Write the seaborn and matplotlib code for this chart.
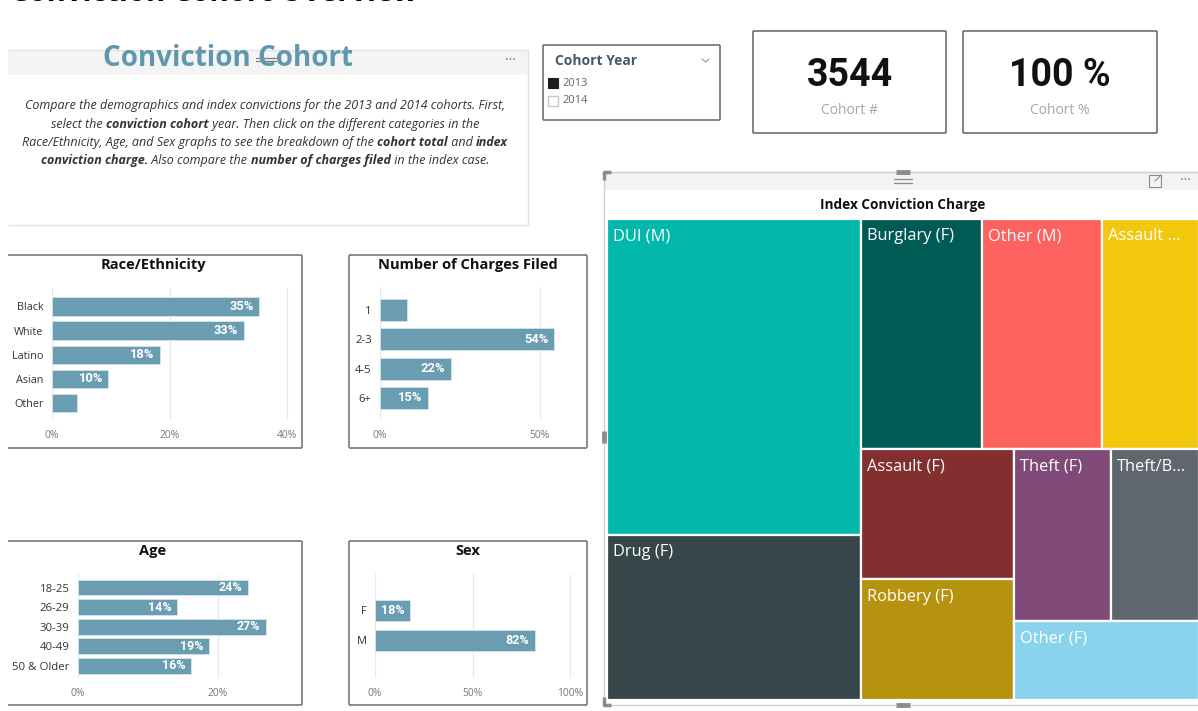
import matplotlib
matplotlib.use("Agg")
import matplotlib.pyplot as plt
import seaborn as sns
from matplotlib.patches import Rectangle

# ---------------- data ----------------
race_cats = ["Black", "White", "Latino", "Asian", "Other"]
race_vals = [35.2, 32.6, 18.3, 9.6, 4.3]
race_ticks = [0, 20, 40]

charges_cats = ["1", "2-3", "4-5", "6+"]
charges_vals = [8.5, 54.3, 22.2, 15.0]
charges_ticks = [0, 50]

age_cats = ["18-25", "26-29", "30-39", "40-49", "50 & Older"]
age_vals = [24.3, 14.1, 26.8, 18.7, 16.1]
age_ticks = [0, 20]

sex_cats = ["F", "M"]
sex_vals = [18.2, 81.8]
sex_ticks = [0, 50, 100]

charge_labels = ["DUI (M)", "Drug (F)", "Burglary (F)", "Other (M)", "Assault ...",
                 "Assault (F)", "Robbery (F)", "Theft (F)", "Theft/B...", "Other (F)"]
charge_counts = [998, 522, 344, 344, 278, 246, 229, 205, 188, 182]
charge_colors = ["#01B8AA", "#374649", "#005B55", "#FD625E", "#F2C80F",
                 "#82302F", "#B6930F", "#7F4A78", "#5F666D", "#8AD3EE"]
charge_groups = [2, 3, 2, 2, 1]   # squarified row breaks

cohort_years = ["2013", "2014"]
cohort_count = "3544"
cohort_pct = "100 %"

# ---------------- setup ----------------
sns.set_theme(style="white")
plt.rcParams["font.family"] = ["Open Sans", "DejaVu Sans"]

W, H = 1198, 711
fig = plt.figure(figsize=(W / 100, H / 100), dpi=100)
fig.patch.set_facecolor("white")

bg = fig.add_axes([0, 0, 1, 1], zorder=0)
bg.set_xlim(0, W)
bg.set_ylim(H, 0)
bg.axis("off")

BAR = "#6a9db2"
BORDER = "#8a8a8a"


def ax_px(x0, y0, x1, y1, z=2):
    return fig.add_axes([x0 / W, 1 - y1 / H, (x1 - x0) / W, (y1 - y0) / H], zorder=z)


def box(x0, y0, x1, y1, ec, lw=1.2, fc="none", sides="trbl"):
    if fc != "none":
        bg.add_patch(Rectangle((x0, y0), x1 - x0, y1 - y0, fc=fc, ec="none"))
    if "t" in sides:
        bg.plot([x0, x1], [y0, y0], color=ec, lw=lw, solid_capstyle="butt")
    if "b" in sides:
        bg.plot([x0, x1], [y1, y1], color=ec, lw=lw, solid_capstyle="butt")
    if "l" in sides:
        bg.plot([x0, x0], [y0, y1], color=ec, lw=lw, solid_capstyle="butt")
    if "r" in sides:
        bg.plot([x1, x1], [y0, y1], color=ec, lw=lw, solid_capstyle="butt")


# ---------------- page title (cropped at the top, as in the source) ----------------
bg.text(10, 1.0, "Conviction Cohort Overview", fontsize=21, fontweight="bold",
        color="black", ha="left", va="baseline")

# ---------------- text box ----------------
box(8, 50, 528, 225, "#e2e2e2", lw=1.0, sides="trb")
bg.add_patch(Rectangle((8, 51), 520, 24, fc="#f4f4f4", ec="none"))
bg.text(228, 58, "Conviction Cohort", fontsize=20, fontweight="bold",
        color="#5f98ad", ha="center", va="center")
for yy in (57.5, 61.0):
    bg.plot([256, 276], [yy, yy], color="#7a7a7a", lw=0.9)
bg.text(510, 60, "···", fontsize=10, color="#777777", ha="center", va="center")

para = [
    [("Compare the demographics and index convictions for the 2013 and 2014 cohorts. First,", False)],
    [("select the ", False), ("conviction cohort", True),
     (" year. Then click on the different categories in the", False)],
    [("Race/Ethnicity, Age, and Sex graphs to see the breakdown of the ", False),
     ("cohort total", True), (" and ", False), ("index", True)],
    [("conviction charge.", True), (" Also compare the ", False),
     ("number of charges filed", True), (" in the index case.", False)],
]
renderer = fig.canvas.get_renderer()
for i, segs in enumerate(para):
    y = 106 + i * 18.3
    texts, widths = [], []
    for s, b in segs:
        t = bg.text(0, y, s, fontsize=9.0, style="italic",
                    fontweight="bold" if b else "normal", color="#333333",
                    ha="left", va="center")
        widths.append(t.get_window_extent(renderer=renderer).width)
        texts.append(t)
    x = 265 - sum(widths) / 2
    for t, w in zip(texts, widths):
        t.set_x(x)
        x += w

# ---------------- slicer ----------------
box(543, 45, 720, 120, "#707070", lw=1.2)
bg.text(555, 61, "Cohort Year", fontsize=10, fontweight="bold", color="#44596a",
        ha="left", va="center")
bg.plot([702, 705.5, 709], [59, 62, 59], color="#a0a0a0", lw=0.9)
bg.add_patch(Rectangle((548, 78), 10, 10, fc="#1e1e1e", ec="#1e1e1e", lw=0.8))
bg.add_patch(Rectangle((548, 96), 10, 10, fc="white", ec="#c8c8c8", lw=1.0))
for i, yr in enumerate(cohort_years):
    bg.text(562, 83 + i * 17.5, yr, fontsize=8, color="#666666", ha="left", va="center")

# ---------------- cards ----------------
for (x0, x1), val, lab in [((753, 946), cohort_count, "Cohort #"),
                           ((963, 1157), cohort_pct, "Cohort %")]:
    box(x0, 31, x1, 133, "#6e6e6e", lw=1.2)
    xc = (x0 + x1) / 2
    bg.text(xc, 75, val, fontsize=27, fontweight="bold", color="#111111",
            ha="center", va="center", family=["Roboto", "DejaVu Sans"])
    bg.text(xc, 110, lab, fontsize=10, color="#a6a6a6", ha="center", va="center")


# ---------------- bar chart panels ----------------
def bar_panel(frame, sides, title, title_xy, cats, vals, ticks, axbox, xmax,
              c0, step, width, lab_fs, val_fs):
    box(*frame, BORDER, lw=1.4, sides=sides)
    bg.text(title_xy[0], title_xy[1], title, fontsize=10.5, fontweight="bold",
            color="#111111", ha="center", va="center")
    ax = ax_px(*axbox)
    ax.set_facecolor("none")
    sns.barplot(x=vals, y=cats, orient="h", color=BAR, saturation=1,
                width=width, errorbar=None, ax=ax, edgecolor="#d6e6ec", linewidth=0.6)
    x0, y0, x1, y1 = axbox
    ax.set_xlim(0, xmax)
    ax.set_ylim((y1 - c0) / step, (y0 - c0) / step)
    ax.set_xticks(ticks)
    ax.set_xticklabels([f"{t}%" for t in ticks])
    ax.grid(axis="x", color="#e9e9e9", lw=0.9)
    ax.grid(axis="y", visible=False)
    ax.set_axisbelow(True)
    for sp in ax.spines.values():
        sp.set_visible(False)
    ax.tick_params(axis="x", length=0, pad=7, labelsize=7.4, labelcolor="#777777")
    ax.tick_params(axis="y", length=0, pad=6, labelsize=lab_fs, labelcolor="#333333")
    ax.set_xlabel("")
    ax.set_ylabel("")
    px_per_unit = (x1 - x0) / xmax
    for p, v in zip(ax.patches, vals):
        if v * px_per_unit >= 30:
            ax.annotate(f"{round(v)}%", (p.get_width(), p.get_y() + p.get_height() / 2),
                        xytext=(-4, 0), textcoords="offset points", ha="right",
                        va="center", color="white", fontsize=val_fs, fontweight="bold",
                        family=["Roboto", "DejaVu Sans"], annotation_clip=False)
    return ax


bar_panel((8, 255, 302, 448), "trb", "Race/Ethnicity", (153, 265),
          race_cats, race_vals, race_ticks, (52, 288, 289, 420), 40.3,
          306.5, 24.1, 0.76, 7.8, 9.3)
bar_panel((349, 255, 587, 448), "trbl", "Number of Charges Filed", (468, 265),
          charges_cats, charges_vals, charges_ticks, (380, 287, 576, 420), 61.25,
          310, 29.3, 0.75, 8.2, 9.3)
bar_panel((8, 541, 302, 705), "trb", "Age", (153, 551),
          age_cats, age_vals, age_ticks, (78, 574, 288, 678), 30,
          587.5, 19.6, 0.8, 8.2, 9.0)
bar_panel((349, 541, 587, 705), "trbl", "Sex", (468, 551),
          sex_cats, sex_vals, sex_ticks, (375, 574, 572, 678), 101,
          610, 30, 0.7, 8.0, 9.0)

# ---------------- treemap visual ----------------
box(604, 172, 1203, 705, "#cfcfcf", lw=1.0)
bg.add_patch(Rectangle((605, 173), 597, 17, fc="#f3f3f3", ec="none"))
for yy in (178.5, 182.5):
    bg.plot([894, 912], [yy, yy], color="#8a8a8a", lw=0.9)
bg.text(1185, 181, "···", fontsize=10, color="#777777", ha="center", va="center")
bg.add_patch(Rectangle((1149, 175), 12, 12, fc="none", ec="#8a8a8a", lw=0.8))
bg.plot([1155, 1161], [181, 175], color="#8a8a8a", lw=0.8)
HC = "#8c8c8c"
bg.plot([604, 604, 611], [180, 172, 172], color=HC, lw=2.5, solid_capstyle="butt")
bg.plot([604, 604, 611], [697, 705, 705], color=HC, lw=2.5, solid_capstyle="butt")
bg.plot([896, 910], [172, 172], color=HC, lw=3.5, solid_capstyle="butt")
bg.plot([896, 910], [705, 705], color=HC, lw=3.5, solid_capstyle="butt")
bg.plot([604, 604], [431, 443], color=HC, lw=3.5, solid_capstyle="butt")
bg.text(903, 205, "Index Conviction Charge", fontsize=9.8, fontweight="bold",
        color="#111111", ha="center", va="center")


def treemap_layout(values, groups, x, y, w, h):
    rects = []
    remaining = float(sum(values))
    i = 0
    for g in groups:
        items = values[i:i + g]
        s = float(sum(items))
        frac = s / remaining
        if w >= h:
            cw = w * frac
            yy = y
            for v in items:
                hh = h * v / s
                rects.append((x, yy, cw, hh))
                yy += hh
            x += cw
            w -= cw
        else:
            rh = h * frac
            xx = x
            for v in items:
                ww = w * v / s
                rects.append((xx, y, ww, rh))
                xx += ww
            y += rh
            h -= rh
        remaining -= s
        i += g
    return rects


TX0, TY0, TX1, TY1 = 607, 219, 1199, 700
tm = ax_px(TX0, TY0, TX1, TY1, z=3)
tm.set_xlim(0, TX1 - TX0)
tm.set_ylim(TY1 - TY0, 0)
tm.axis("off")
rects = treemap_layout(charge_counts, charge_groups, 0, 0, TX1 - TX0, TY1 - TY0)
for (rx, ry, rw, rh), lab, col in zip(rects, charge_labels, charge_colors):
    tm.add_patch(Rectangle((rx, ry), rw, rh, fc=col, ec="white", lw=1.6))
    tm.text(rx + 6, ry + 17.5, lab, fontsize=11.8, color="white", ha="left", va="center",
            clip_on=True)

fig.savefig("out.png", dpi=100)
